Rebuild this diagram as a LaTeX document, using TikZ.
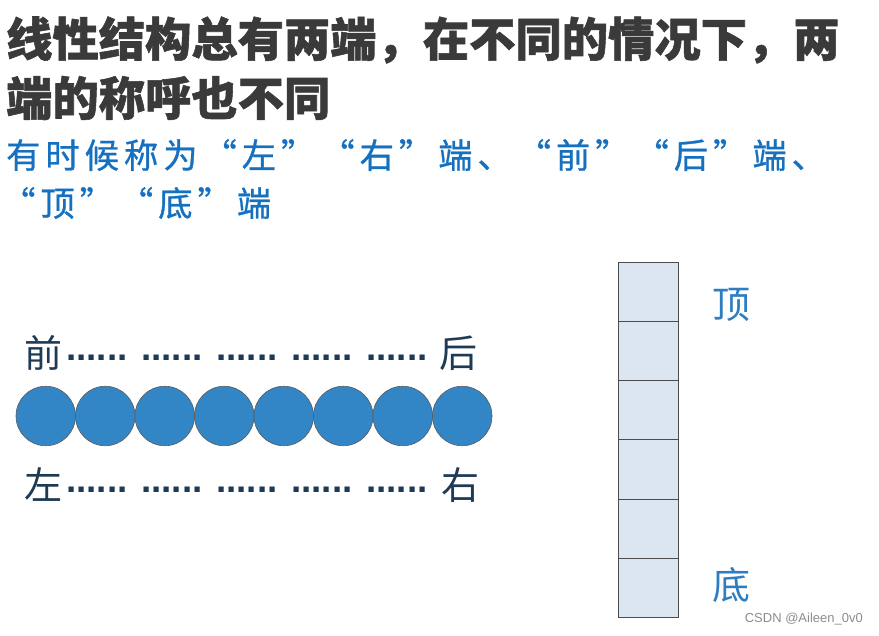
\documentclass[tikz,border=0pt]{standalone}
\usepackage{fontspec}
\setmainfont{Liberation Sans}
\newfontfamily\cjk{Noto Sans CJK SC}[BoldFeatures={FakeBold=1.2}]
\newfontfamily\cjksp{Noto Sans CJK SC}[LetterSpace=14.5, FakeBold=0.8]
\newfontfamily\latinf{Liberation Sans}
\definecolor{titlegray}{HTML}{3A3A3A}
\definecolor{subblue}{HTML}{1570C0}
\definecolor{ballblue}{HTML}{3386C6}
\definecolor{navy}{HTML}{1F3A55}
\definecolor{cellfill}{HTML}{DCE6F1}
\definecolor{endblue}{HTML}{2F7DC1}
\tikzset{
  titletxt/.style={anchor=west, inner sep=0pt, text=titlegray, font=\cjk\bfseries\fontsize{46.3}{50}\selectfont},
  subtxt/.style={anchor=west, inner sep=0pt, text=subblue, font=\cjksp\fontsize{34.3}{40}\selectfont},
  ball/.style={circle, minimum size=59.5pt, inner sep=0pt, fill=ballblue, draw=black!65, line width=0.6pt},
  endtxt/.style={inner sep=0pt, text=navy, font=\cjk\fontsize{38}{42}\selectfont},
  dotstxt/.style={inner sep=0pt, text=navy, font=\latinf\bfseries\fontsize{36.8}{42}\selectfont},
  cell/.style={rectangle, minimum width=60pt, minimum height=59.2pt, inner sep=0pt, fill=cellfill, draw=black!70, line width=0.6pt},
  sidetxt/.style={inner sep=0pt, text=endblue, font=\cjk\fontsize{38}{42}\selectfont}
}
\begin{document}
\begin{tikzpicture}[x=1pt,y=-1pt]
\useasboundingbox (0,0) rectangle (879,636);
\node[titletxt] (t1) at (6,40) {线性结构总有两端，在不同的情况下，两};
\node[titletxt] (t2) at (6,98) {端的称呼也不同};
\node[subtxt] (s1) at (6,155) {有时候称为“左”“右”端、“前”“后”端、};
\node[subtxt] (s2) at (1,203) {“顶”“底”端};
% balls
\foreach \i in {0,...,7} {
  \node[ball] (b\i) at ({45.75+59.5*\i},416) {};
}
% labels
\node[endtxt, anchor=west] (qian) at (24,353) {前};
\node[endtxt, anchor=east] (hou) at (478,353) {后};
\node[dotstxt, anchor=west] (d1) at (66,358) {...... ...... ...... ...... ......};
\node[endtxt, anchor=west] (zuo) at (24,485) {左};
\node[endtxt, anchor=east] (you) at (480,485) {右};
\node[dotstxt, anchor=west] (d2) at (66,490) {...... ...... ...... ...... ......};
% stack
\foreach \j in {0,...,5} {
  \node[cell] (c\j) at (648,{291.6+59.2*\j}) {};
}
\node[sidetxt, anchor=west] (top) at (712,305) {顶};
\node[sidetxt, anchor=west] (bot) at (712,585) {底};
\node[anchor=east, inner sep=0pt, text=black!45, font=\latinf\fontsize{13}{15}\selectfont] (wm) at (863,619) {CSDN @Aileen\_0v0};
\end{tikzpicture}
\end{document}
